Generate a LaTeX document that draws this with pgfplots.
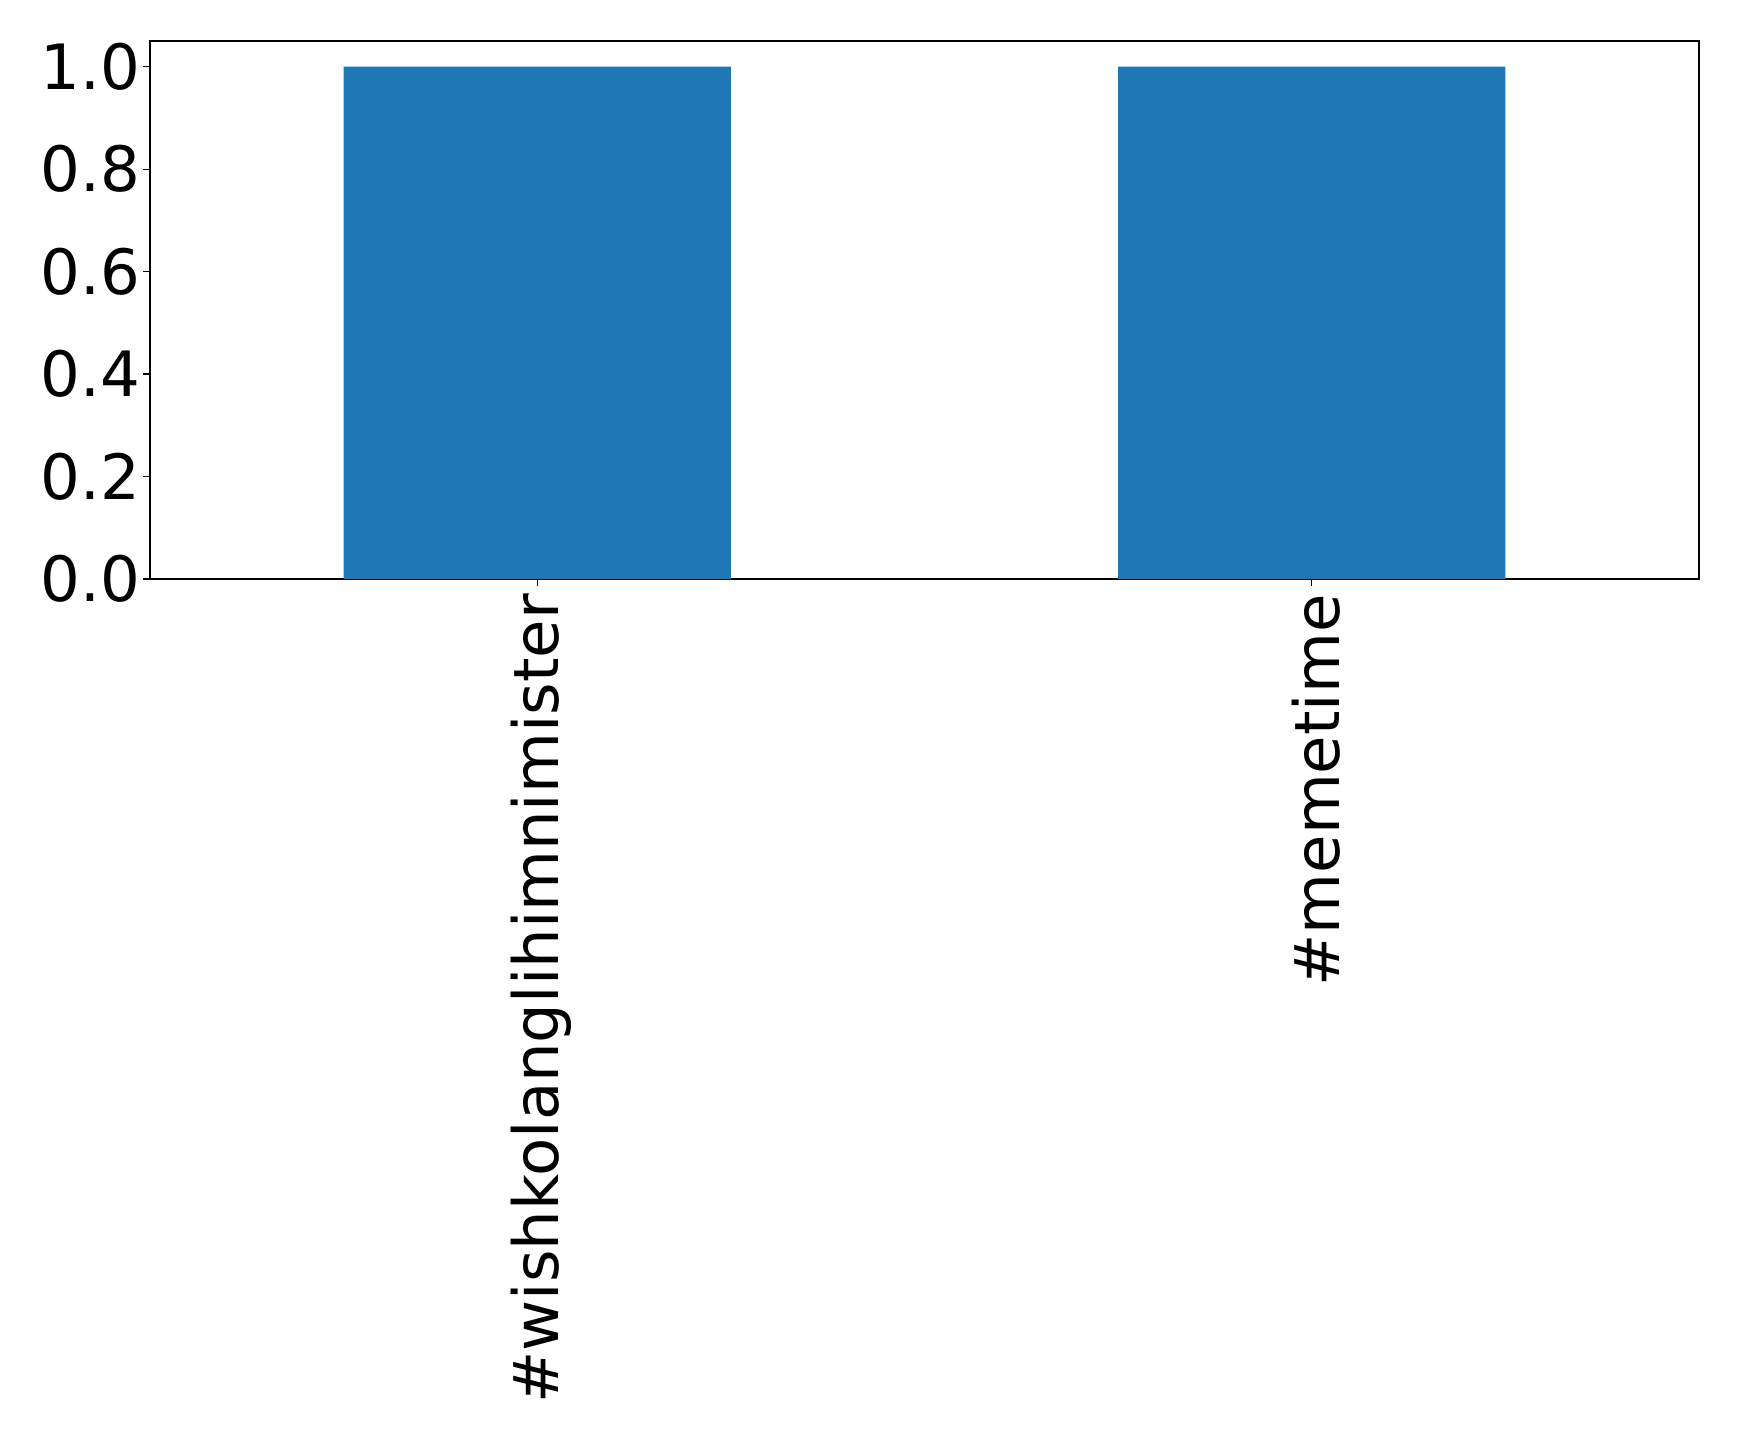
\documentclass[border=0pt]{standalone}
\usepackage{fontspec}
\setmainfont{DejaVu Sans}
\usepackage{pgfplots}
\pgfplotsset{compat=1.18}
\definecolor{mplblue}{HTML}{1F77B4}
\begin{document}
\begin{tikzpicture}
\path[use as bounding box] (-108pt,-617.8pt) rectangle (1144.1pt,416.9pt);
\begin{axis}[
  at={(0,0)}, anchor=south west,
  scale only axis,
  width=1115.3pt, height=387.4pt,
  xmin=-0.5, xmax=1.5, ymin=0, ymax=1.05,
  xtick={0,1},
  xticklabels={\#wishkolanglihimnimister,\#memetime},
  ytick={0,0.2,0.4,0.6,0.8,1.0},
  yticklabel style={/pgf/number format/fixed,/pgf/number format/precision=1,/pgf/number format/fixed zerofill, inner sep=0pt, xshift=-2pt},
  /pgf/number format/assume math mode=true,
  ticklabel style={font=\fontsize{45}{54}\selectfont},
  xticklabel style={rotate=90, anchor=east, inner sep=0pt, xshift=-6pt, yshift=-3pt},
  tick align=outside,
  xtick pos=bottom, ytick pos=left,
  major tick length=4.9pt,
  every tick/.style={black, line width=0.8pt},
  axis line style={line width=0.8pt},
]
\addplot[ybar, bar width=0.5, fill=mplblue, draw=none] coordinates {(0,1) (1,1)};
\end{axis}
\end{tikzpicture}
\end{document}
